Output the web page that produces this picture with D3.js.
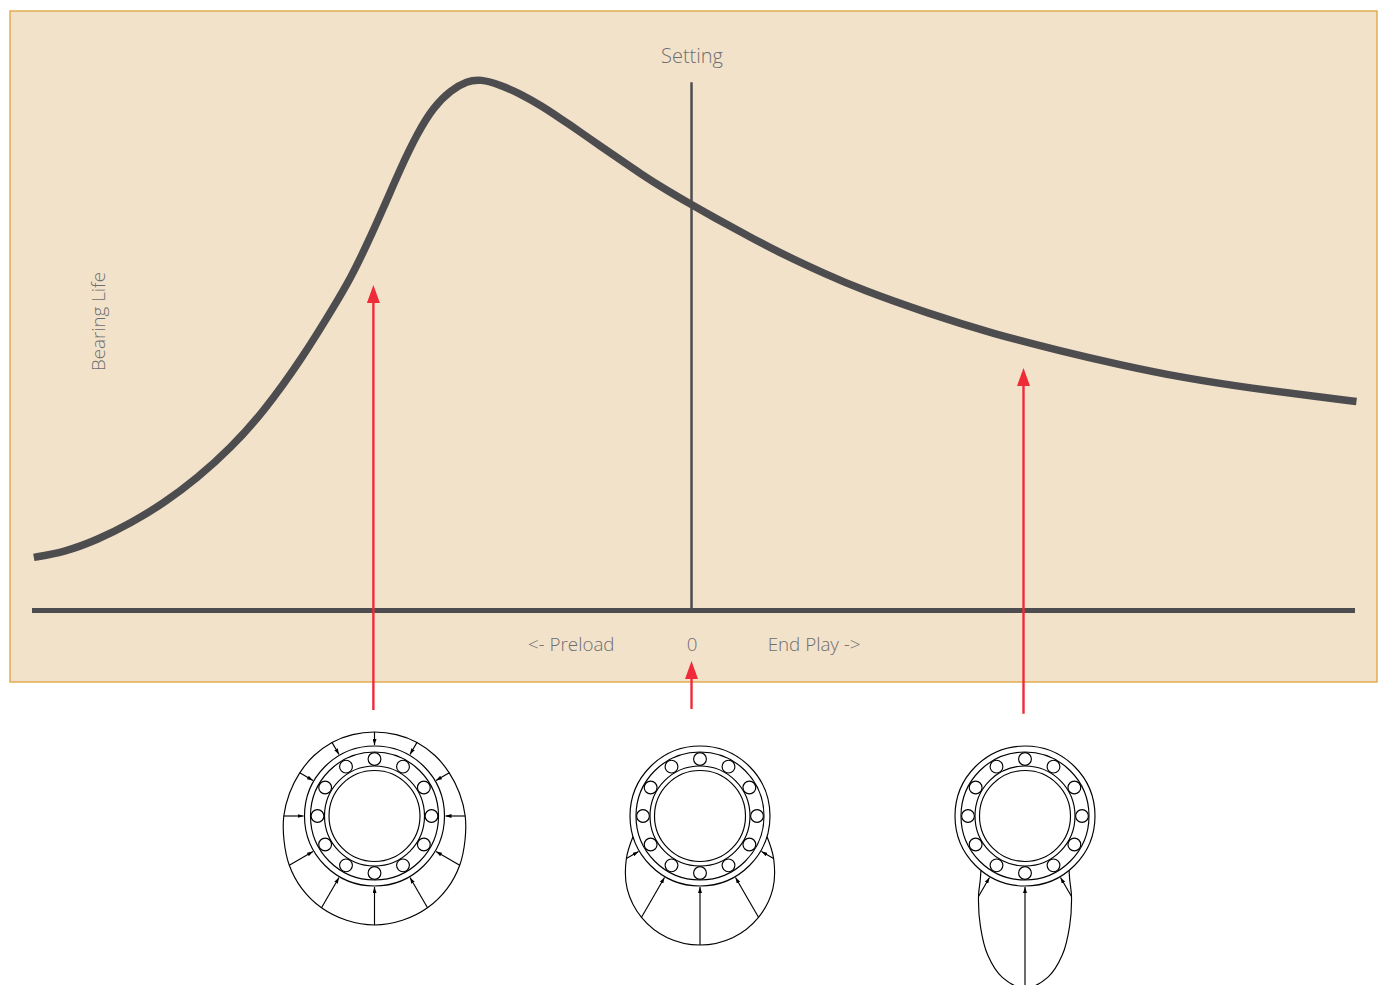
<!DOCTYPE html>
<html>
<head>
<meta charset="utf-8">
<script src="https://cdn.jsdelivr.net/npm/d3@7"></script>
<style>
  html, body { margin: 0; padding: 0; background: #fff; overflow: hidden; }
  svg { display: block; }
  text { font-family: "Open Sans", sans-serif; font-weight: 300; fill: #6d6e71; }
</style>
</head>
<body>
<div id="chart"></div>
<script>
// Bearing life curve
const curveSetting = [-99.65, -95.1, -90.05, -85.0, -79.95, -74.9, -69.85, -64.8, -59.0, -54.2, -51.65, -49.1, -46.6, -44.1, -41.55, -39.05, -36.5, -34.0, -32.0, -28.95, -25.9, -22.9, -19.85, -16.8, -13.8, -10.75, -7.7, -4.7, 0.1, 3.4, 8.45, 13.5, 20.55, 25.6, 35.7, 45.8, 55.9, 64.5, 74.6, 84.7, 94.8, 100.75];
const curveLife = [9.9, 10.85, 13.16, 16.3, 20.06, 24.76, 30.4, 37.3, 47.3, 57.0, 62.35, 68.9, 75.8, 83.0, 89.6, 94.6, 97.7, 99.4, 99.8, 98.7, 97.0, 94.9, 92.4, 89.8, 87.2, 84.6, 82.0, 79.6, 76.1, 73.8, 70.4, 67.05, 63.0, 60.3, 55.8, 51.9, 48.7, 46.2, 43.6, 41.7, 40.1, 39.2];

const tickValues = [-18.3, 0, 18.5];
const tickLabels = ['<- Preload', '0', 'End Play ->'];

// Red arrows from the bearings up to the curve
const arrowSetting = [-48.2, 0, 50.3];
const arrowTipLife = [61.1, -9.6, 45.5];
const arrowTailLife = [-18.8, -18.6, -19.5];

// Load envelopes, angle is degrees from straight down
const preloadAngles = [-180, -165, -150, -135, -120, -105, -90, -75, -60, -45, -30, -15, 0, 15, 30, 45, 60, 75, 90, 105, 120, 135, 150, 165];
const preloadLoads = [14, 14.3, 15, 15.5, 16.3, 18, 20.7, 23.7, 28.4, 32.7, 36, 38, 39, 38, 36, 32.7, 28.4, 23.7, 20.7, 18, 16.3, 15.5, 15, 14.3];
const preloadArrows = [-180, -150, -120, -90, -60, -30, 0, 30, 60, 90, 120, 150];

const zeroAngles = [-73, -60, -45, -30, -15, 0, 15, 30, 45, 60, 73];
const zeroLoads = [0, 15, 33, 47, 56, 59, 56, 47, 33, 15, 0];
const zeroArrows = [-60, -30, 0, 30, 60];

const endPlayAngles = [-39, -35, -30, -22, -15, -8, 0, 8, 15, 22, 30, 35, 39];
const endPlayLoads = [0, 8, 23, 49, 74, 93, 102, 93, 74, 49, 23, 8, 0];
const endPlayArrows = [-30, 0, 30];

const ringRadii = [70, 64, 50, 45.5];
const ballAngles = d3.range(0, 360, 30);

const width = 1380;
const height = 985;

const svg = d3.select('#chart').append('svg')
    .attr('width', width)
    .attr('height', height);

svg.append('defs').append('marker')
    .attr('id', 'loadHead')
    .attr('viewBox', '0 0 6 4')
    .attr('refX', 6)
    .attr('refY', 2)
    .attr('markerUnits', 'userSpaceOnUse')
    .attr('markerWidth', 6)
    .attr('markerHeight', 4)
    .attr('orient', 'auto')
    .append('path')
    .attr('d', 'M0,0L6,2L0,4Z')
    .attr('fill', '#000');

svg.append('rect')
    .attr('x', 10)
    .attr('y', 11)
    .attr('width', 1367)
    .attr('height', 671)
    .attr('fill', '#f3e2ca')
    .attr('stroke', '#dfa23c')
    .attr('stroke-width', 1.3);

const x = d3.scaleLinear().domain([-100, 100.45]).range([31.5, 1354.5]);
const y = d3.scaleLinear().domain([0, 100]).range([610, 78]);

// setting line
svg.append('line')
    .attr('x1', x(0))
    .attr('x2', x(0))
    .attr('y1', y(99.2))
    .attr('y2', y(0))
    .attr('stroke', '#4d4d4f')
    .attr('stroke-width', 2.5);

const line = d3.line()
    .x(i => x(curveSetting[i]))
    .y(i => y(curveLife[i]))
    .curve(d3.curveBasis);

svg.append('path')
    .attr('d', line(d3.range(curveSetting.length)))
    .attr('fill', 'none')
    .attr('stroke', '#4d4d4f')
    .attr('stroke-width', 7.5);

const xAxis = d3.axisBottom(x)
    .tickValues(tickValues)
    .tickFormat((d, i) => tickLabels[i])
    .tickSize(0)
    .tickPadding(28);

const axisG = svg.append('g')
    .attr('transform', 'translate(0,' + y(0) + ')')
    .call(xAxis);
axisG.select('.domain')
    .attr('stroke', '#4d4d4f')
    .attr('stroke-width', 5);
axisG.selectAll('text')
    .attr('font-size', 18.8)
    .attr('font-family', '"Open Sans", sans-serif')
    .attr('fill', '#6d6e71');

svg.append('text')
    .text('Setting')
    .attr('x', 692)
    .attr('y', 63)
    .attr('text-anchor', 'middle')
    .attr('font-size', 20);

svg.append('text')
    .text('Bearing Life')
    .attr('transform', 'translate(105,321.5) rotate(-90)')
    .attr('text-anchor', 'middle')
    .attr('font-size', 18.8);

// red arrows
const red = '#ef2b3a';
arrowSetting.forEach((s, i) => {
    const px = x(s);
    const tip = y(arrowTipLife[i]);
    svg.append('line')
        .attr('x1', px)
        .attr('x2', px)
        .attr('y1', y(arrowTailLife[i]))
        .attr('y2', tip + 10)
        .attr('stroke', red)
        .attr('stroke-width', 2.4);
    svg.append('path')
        .attr('d', d3.line()([[px, tip], [px + 6.5, tip + 18], [px - 6.5, tip + 18]]) + 'Z')
        .attr('fill', red);
});

// load radius for a ring of r=70
const loadRadius = d3.scaleLinear().domain([0, 100]).range([70, 170]);
const rad = a => (180 - a) * Math.PI / 180;

function drawBearing(cx, cy, angles, loads, arrows, closed) {
    const g = svg.append('g').attr('transform', 'translate(' + cx + ',' + cy + ')');

    const radial = d3.lineRadial()
        .angle(i => rad(angles[i]))
        .radius(i => loadRadius(loads[i]))
        .curve(closed ? d3.curveCatmullRomClosed : d3.curveCatmullRom);

    g.append('path')
        .attr('d', radial(d3.range(angles.length)))
        .attr('fill', 'none')
        .attr('stroke', '#000')
        .attr('stroke-width', 1.15);

    arrows.forEach(a => {
        const r = loadRadius(loads[angles.indexOf(a)]);
        const t = rad(a);
        g.append('line')
            .attr('x1', r * Math.sin(t))
            .attr('y1', -r * Math.cos(t))
            .attr('x2', 71 * Math.sin(t))
            .attr('y2', -71 * Math.cos(t))
            .attr('stroke', '#000')
            .attr('stroke-width', 1.15)
            .attr('marker-end', 'url(#loadHead)');
    });

    g.selectAll('.ring')
        .data(ringRadii)
        .enter()
        .append('circle')
        .attr('r', d => d)
        .attr('fill', (d, i) => i === 0 ? '#fff' : 'none')
        .attr('stroke', '#000')
        .attr('stroke-width', 1.15);

    g.selectAll('.ball')
        .data(ballAngles)
        .enter()
        .append('circle')
        .attr('cx', d => 57 * Math.sin(d * Math.PI / 180))
        .attr('cy', d => -57 * Math.cos(d * Math.PI / 180))
        .attr('r', 6.4)
        .attr('fill', '#fff')
        .attr('stroke', '#000')
        .attr('stroke-width', 1.15);
}

drawBearing(374.5, 816, preloadAngles, preloadLoads, preloadArrows, true);
drawBearing(700, 816, zeroAngles, zeroLoads, zeroArrows, false);
drawBearing(1025, 816, endPlayAngles, endPlayLoads, endPlayArrows, false);
</script>
</body>
</html>
